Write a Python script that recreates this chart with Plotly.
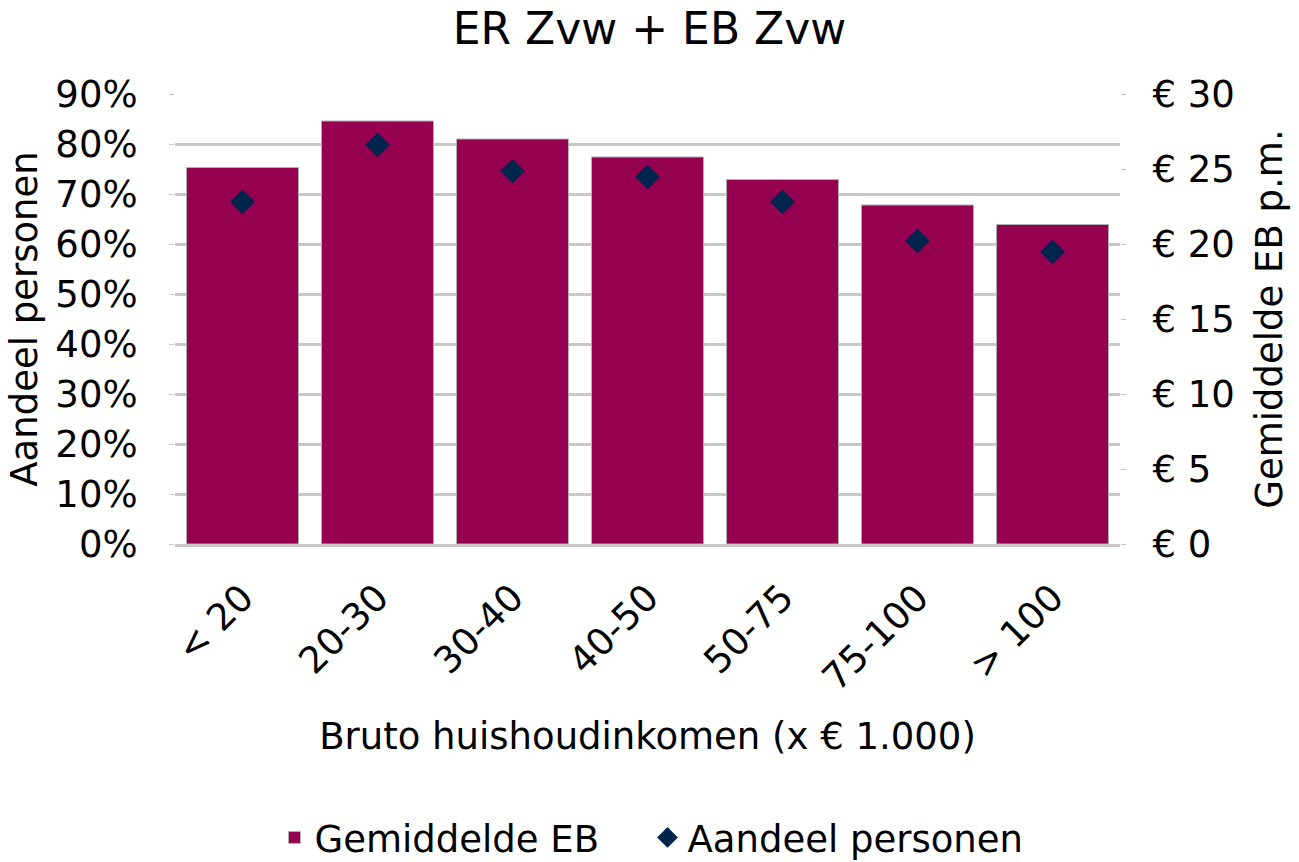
import plotly.graph_objects as go

categories = ["< 20", "20-30", "30-40", "40-50", "50-75", "75-100", "> 100"]
gemiddelde_eb = [25.1, 28.2, 27.0, 25.8, 24.3, 22.6, 21.3]
aandeel_personen = [0.684, 0.798, 0.746, 0.734, 0.684, 0.606, 0.584]
left_ticks = [0, 0.1, 0.2, 0.3, 0.4, 0.5, 0.6, 0.7, 0.8, 0.9]
left_labels = ["0%", "10%", "20%", "30%", "40%", "50%", "60%", "70%", "80%", "90%"]
right_ticks = [0, 5, 10, 15, 20, 25, 30]
right_labels = ["€ 0", "€ 5", "€ 10", "€ 15", "€ 20", "€ 25", "€ 30"]

FONT = "DejaVu Sans"
BAR = "#960050"
NAVY = "#00254D"
GRID = "#c8c8c8"
TICK = 37
AXT = 37

fig = go.Figure()
fig.add_trace(go.Bar(
    x=categories, y=gemiddelde_eb, name="Gemiddelde EB", yaxis="y",
    marker=dict(color=BAR, line=dict(color="#b0b0b0", width=1)),
))
fig.add_trace(go.Scatter(
    x=categories, y=aandeel_personen, name="Aandeel personen", mode="markers",
    yaxis="y2",
    marker=dict(symbol="diamond", size=19, color=NAVY),
))

fig.update_layout(
    width=1299, height=862,
    paper_bgcolor="white", plot_bgcolor="white",
    margin=dict(l=175, r=179, t=94, b=318, autoexpand=False),
    font=dict(family=FONT, size=TICK, color="black"),
    title=dict(text="ER Zvw + EB Zvw", x=0.5, xanchor="center", y=0.967, yanchor="middle",
               font=dict(family=FONT, size=44, color="black")),
    bargap=0.17,
    showlegend=True,
    legend=dict(orientation="h", x=0.5, xanchor="center", y=-0.653, yanchor="middle",
                font=dict(family=FONT, size=37), traceorder="normal",
                itemwidth=30, entrywidth=328),
    xaxis=dict(
        tickangle=-45, showgrid=False, showline=True, linecolor=GRID, linewidth=3,
        ticks="", tickfont=dict(family=FONT, size=TICK), ticklabelstandoff=14,
        title=dict(text="Bruto huishoudinkomen (x € 1.000)", font=dict(family=FONT, size=AXT), standoff=26),
    ),
    yaxis=dict(
        range=[0, 30], tickvals=right_ticks, ticktext=right_labels,
        side="right", showgrid=False, zeroline=False,
        ticks="outside", ticklen=5, tickcolor=GRID, ticklabelstandoff=19,
        tickfont=dict(family=FONT, size=TICK),
        title=dict(text="Gemiddelde EB p.m.", font=dict(family=FONT, size=AXT), standoff=22),
    ),
    yaxis2=dict(
        range=[0, 0.9], tickvals=left_ticks, ticktext=left_labels,
        overlaying="y", side="left",
        showgrid=True, gridcolor=GRID, gridwidth=3, zeroline=False,
        ticks="outside", ticklen=5, tickcolor=GRID, ticklabelstandoff=24,
        tickfont=dict(family=FONT, size=TICK),
        title=dict(text="Aandeel personen", font=dict(family=FONT, size=AXT), standoff=6),
    ),
)

fig.write_html("out.html")
